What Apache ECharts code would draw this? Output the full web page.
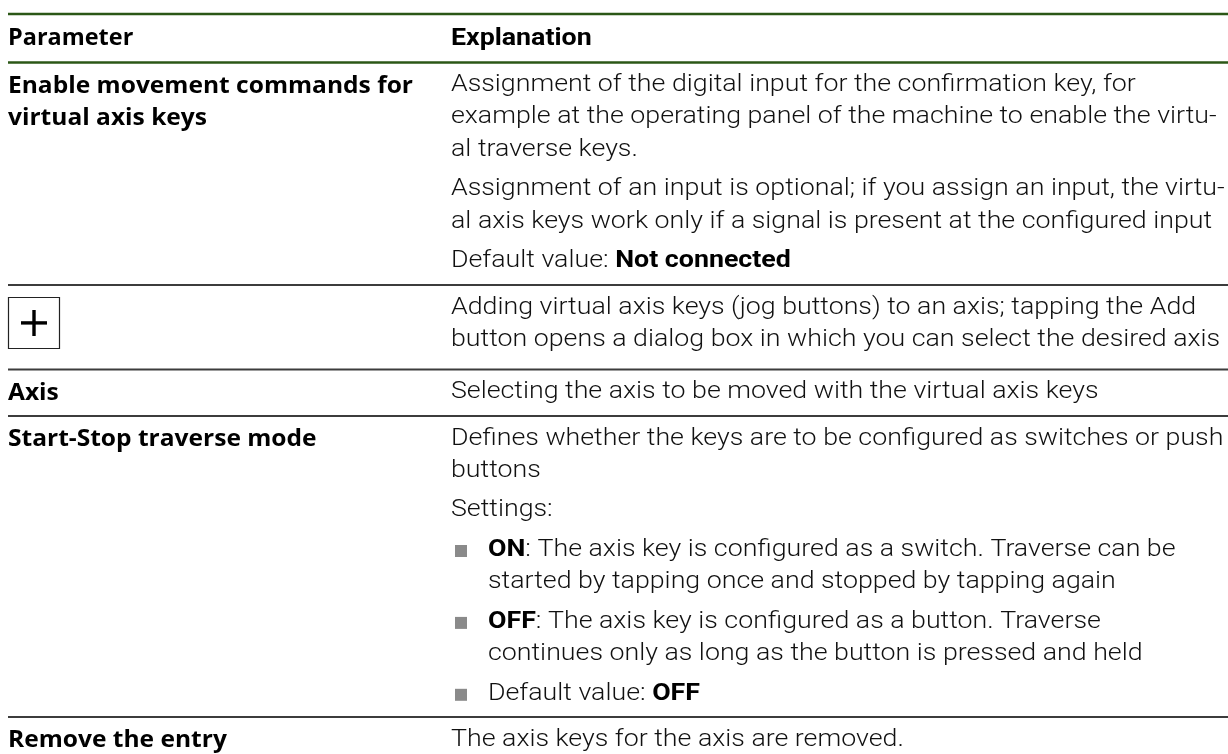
<!DOCTYPE html>
<html><head><meta charset="utf-8">
<script src="https://cdn.jsdelivr.net/npm/echarts@6/dist/echarts.min.js"></script>
<style>html,body{margin:0;padding:0;background:#fff}#c{width:1228px;height:754px}</style>
</head><body><div id="c"></div>
<script>
// ---- content ----
const headers = ['Parameter', 'Explanation'];
const paramLabels = [
  ['Enable movement commands for', 'virtual axis keys'],
  ['+'],
  ['Axis'],
  ['Start-Stop traverse mode'],
  ['Remove the entry']
];
// each row: list of paragraphs; each paragraph: list of lines ({b|..} = bold)
const explanations = [
  [
    ['Assignment of the digital input for the confirmation key, for',
     'example at the operating panel of the machine to enable the virtu-',
     'al traverse keys.'],
    ['Assignment of an input is optional; if you assign an input, the virtu-',
     'al axis keys work only if a signal is present at the configured input'],
    ['Default value: {b|Not connected}']
  ],
  [
    ['Adding virtual axis keys (jog buttons) to an axis; tapping the Add',
     'button opens a dialog box in which you can select the desired axis']
  ],
  [
    ['Selecting the axis to be moved with the virtual axis keys']
  ],
  [
    ['Defines whether the keys are to be configured as switches or push',
     'buttons'],
    ['Settings:']
  ],
  [
    ['The axis keys for the axis are removed.']
  ]
];
const bulletItems = [
  ['{b|ON}: The axis key is configured as a switch. Traverse can be',
   'started by tapping once and stopped by tapping again'],
  ['{b|OFF}: The axis key is configured as a button. Traverse',
   'continues only as long as the button is pressed and held'],
  ['Default value: {b|OFF}']
];

// ---- layout ----
const X0 = 8, X1 = 451, XB = 488, XR = 1228;
const LH = 32.3, PG = 7.3, PADT = 22.5;
const rowTop = [62.5, 285, 369.5, 416, 717];
const green = '#2b5716', rule = '#3c3c3c';
const leftFont = '"Open Sans", "Noto Sans", sans-serif';
const rightFont = 'Roboto, sans-serif';
const LFS = 23, RFS = 24;
const LSX = 1.067, HSX = 1.02, RSX = 1.115;

const g = [];
function hline(y, color, w) {
  g.push({type: 'line', shape: {x1: X0, y1: y, x2: XR, y2: y}, style: {stroke: color, lineWidth: w}, silent: true});
}
function txt(x, y, s, font, size, weight, color, sx) {
  g.push({type: 'text', x: x, y: y, scaleX: sx, silent: true, style: {
    text: s, fontFamily: font, fontSize: size, fontWeight: weight, fill: color,
    verticalAlign: 'middle', align: 'left',
    rich: {b: {fontFamily: rightFont, fontWeight: 700, fontSize: size, fill: '#000'}}
  }});
}

hline(14, green, 2.5);
hline(62.5, green, 2.5);
txt(X0, 38.5, headers[0], leftFont, LFS, 700, '#000', HSX);
txt(X1, 38.5, headers[1], rightFont, RFS, 700, '#000', RSX);

rowTop.slice(1).forEach(y => hline(y, rule, 1.8));

paramLabels.forEach((lines, i) => {
  if (lines[0] === '+') {
    g.push({type: 'rect', shape: {x: 8.5, y: 297.5, width: 51, height: 51}, style: {fill: '#fff', stroke: '#222', lineWidth: 1.2}, silent: true});
    g.push({type: 'rect', shape: {x: 21, y: 321.2, width: 26, height: 3.4}, style: {fill: '#000'}, silent: true});
    g.push({type: 'rect', shape: {x: 32.3, y: 310, width: 3.4, height: 26}, style: {fill: '#000'}, silent: true});
    return;
  }
  lines.forEach((l, k) => txt(X0, rowTop[i] + PADT + 1 + k * LH, l, leftFont, LFS, 700, '#000', LSX));
});

explanations.forEach((paras, i) => {
  let y = rowTop[i] + PADT;
  paras.forEach(p => {
    p.forEach(l => { txt(X1, y, l, rightFont, RFS, 300, '#111', RSX); y += LH; });
    y += PG;
  });
  if (i === 3) {
    bulletItems.forEach(item => {
      g.push({type: 'rect', shape: {x: 455, y: y - 5, width: 12, height: 12}, style: {fill: '#8a8a8a'}, silent: true});
      item.forEach(l => { txt(XB, y, l, rightFont, RFS, 300, '#111', RSX); y += LH; });
      y += PG;
    });
  }
});

const chart = echarts.init(document.getElementById('c'), null, {renderer: 'canvas'});
chart.setOption({animation: false, backgroundColor: '#fff', graphic: {elements: g}});
</script></body></html>
